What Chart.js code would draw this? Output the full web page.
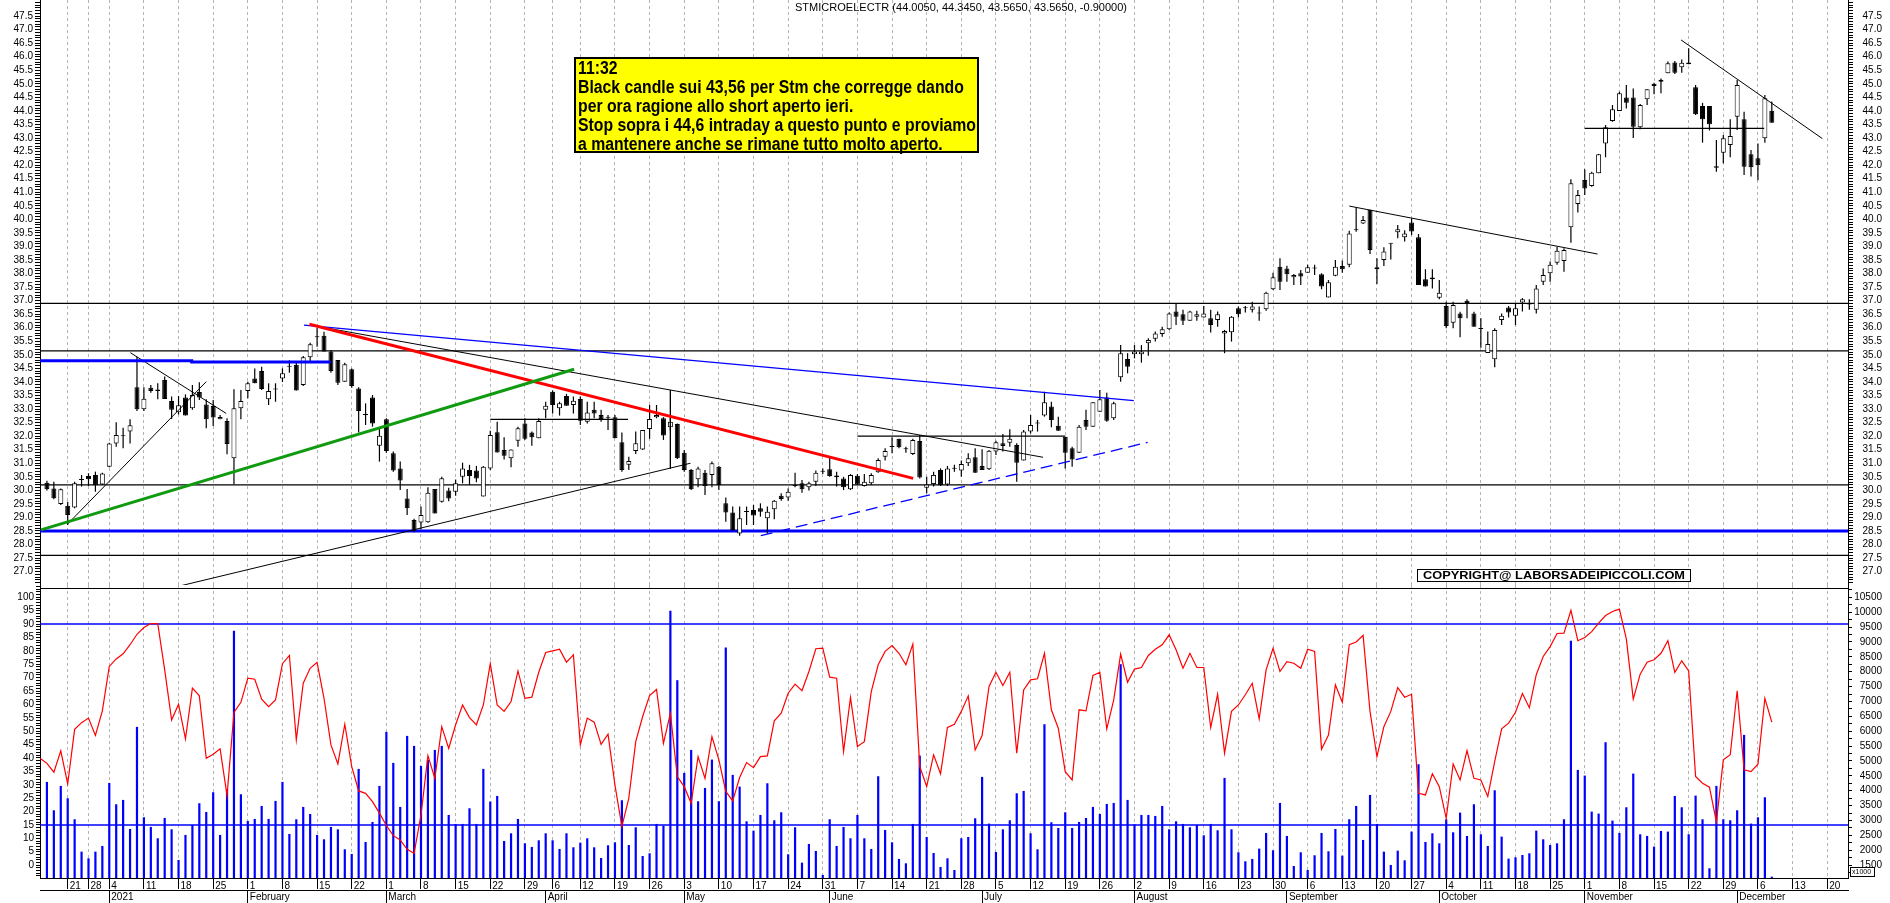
<!DOCTYPE html>
<html><head><meta charset="utf-8">
<script src="https://cdn.jsdelivr.net/npm/chart.js"></script>
<style>
html,body{margin:0;padding:0;background:#fff;width:1890px;height:903px;overflow:hidden}
canvas{position:absolute;left:0}
#top{top:0;width:1890px;height:585px}
#bot{top:585px;width:1890px;height:318px}
</style></head><body>
<canvas id="top" width="1890" height="585"></canvas>
<canvas id="bot" width="1890" height="318"></canvas>
<script>
// ---------- categories (trading days) ----------
const FIRST_DAY = '2020-12-15', LAST_DAY = '2021-12-23';
const HOLIDAYS = ['2020-12-24','2020-12-25','2020-12-31','2021-01-01','2021-04-02','2021-04-05'];
const MONTH_LABELS = ['2021','February','March','April','May','June','July','August','September','October','November','December'];
function buildCategories(){
  const out=[]; const d=new Date(FIRST_DAY+'T12:00:00Z'); const end=new Date(LAST_DAY+'T12:00:00Z');
  while(d<=end){ const dow=d.getUTCDay(); const s=d.toISOString().slice(0,10);
    if(dow!==0&&dow!==6&&!HOLIDAYS.includes(s)) out.push(s); d.setUTCDate(d.getUTCDate()+1); }
  return out;
}
const categories = buildCategories();

// ---------- price data (first day hidden at the axis edge) ----------
const open = [null,
30.28,30.07,29.50,29.43,29.37,30.38,30.53,30.57,30.22,30.87,
31.73,32.00,32.17,33.80,32.99,33.79,33.72,34.07,33.30,32.88,
33.43,33.03,33.63,33.17,33.11,32.62,32.56,31.18,33.03,33.67,
34.13,34.40,33.36,33.72,34.13,34.56,34.63,33.89,34.91,35.65,
35.70,35.12,34.81,34.01,34.47,33.76,32.78,33.43,31.65,32.62,
31.37,30.81,29.70,28.91,28.81,28.82,30.05,29.58,29.99,29.95,
30.50,30.75,30.73,29.77,30.81,32.14,31.49,31.18,31.83,32.47,
32.13,31.92,32.97,33.64,33.03,33.48,33.15,33.37,32.53,32.97,
32.78,32.68,32.70,31.77,30.94,31.45,31.51,32.26,32.70,32.66,
32.33,32.45,31.39,30.75,30.41,30.65,30.57,30.87,29.52,29.18,
28.41,29.20,29.27,29.34,28.97,29.30,29.80,29.74,30.16,30.26,
30.11,30.32,30.69,30.78,30.48,30.44,30.04,30.54,30.16,30.26,
30.67,31.24,31.60,31.90,31.52,31.34,31.82,30.10,30.23,30.75,
30.22,30.80,30.73,31.00,31.22,30.90,30.78,31.43,31.74,31.76,
31.67,31.10,32.17,32.47,32.76,33.09,32.38,31.98,31.55,31.39,
32.60,32.35,32.90,33.43,32.66,34.17,34.85,35.02,35.02,35.43,
35.59,35.77,35.94,36.60,36.50,36.26,36.41,36.38,36.35,36.29,
35.79,35.83,36.72,36.72,36.66,36.53,36.68,37.42,38.25,38.19,
37.86,38.01,38.03,38.19,37.97,37.12,37.92,38.28,38.32,39.60,
39.85,40.35,38.16,38.50,39.10,39.52,39.34,39.88,39.34,37.79,
37.85,37.11,36.80,36.18,36.53,37.00,36.53,35.96,35.07,34.84,
36.29,36.75,36.44,36.93,36.86,36.66,37.70,38.01,38.40,38.46,
39.71,40.57,41.45,41.23,41.70,42.80,43.63,44.00,44.50,44.50,
43.40,44.43,45.00,45.15,45.39,45.79,45.61,45.79,44.87,44.18,
44.18,41.96,42.46,42.74,43.79,43.69,42.40,42.25,42.99,44.005];
const high = [null,
30.35,30.32,30.07,29.58,30.32,30.57,30.63,30.69,30.65,31.76,
32.51,32.31,32.62,34.93,33.80,33.89,33.95,34.20,33.46,33.48,
33.54,33.89,33.99,33.36,33.33,32.78,32.66,33.73,33.70,34.01,
34.50,34.56,33.95,33.95,34.50,34.80,34.75,34.96,35.45,36.00,
35.85,35.18,34.81,34.71,34.50,33.80,33.21,33.52,32.29,32.66,
31.43,31.06,30.05,28.95,29.40,30.11,30.05,30.50,30.10,30.40,
31.02,30.94,30.90,30.90,32.20,32.53,31.96,31.51,32.35,32.66,
32.17,32.66,33.27,33.68,33.27,33.56,33.46,33.46,33.27,33.27,
32.97,32.78,32.78,32.13,31.24,32.17,32.23,33.15,33.15,32.70,
32.66,32.47,31.49,30.79,30.87,30.75,31.06,30.90,29.74,29.40,
29.40,29.40,29.46,29.52,29.40,29.64,29.89,30.07,30.65,30.38,
30.32,30.73,30.81,31.24,30.69,30.50,30.60,30.60,30.60,30.63,
31.18,31.55,31.96,31.90,31.61,31.90,32.04,30.50,30.69,30.81,
30.90,30.94,31.10,31.37,31.55,31.52,31.49,31.83,32.08,32.25,
31.74,32.23,32.78,32.60,33.64,33.27,32.72,31.98,31.61,32.41,
32.97,33.25,33.70,33.60,33.27,35.36,35.06,35.36,35.36,35.61,
35.86,36.04,36.56,36.88,36.66,36.63,36.63,36.80,36.66,36.60,
35.92,36.43,36.78,36.80,36.96,36.78,37.33,38.03,38.56,38.29,
37.98,38.13,38.32,38.32,38.01,37.76,38.50,38.48,39.58,40.44,
40.12,40.35,38.56,38.97,39.12,39.79,39.60,40.04,39.46,38.16,
38.16,37.76,36.96,36.96,36.59,37.05,36.59,36.35,35.86,35.98,
36.53,36.80,36.88,37.09,37.05,37.58,38.19,38.44,38.99,38.93,
41.48,41.08,41.85,41.76,42.41,43.48,44.22,44.71,44.96,44.83,
44.26,44.80,45.04,45.20,45.82,45.84,45.90,46.31,44.96,44.30,
44.18,42.93,43.11,43.69,45.14,43.97,42.56,42.80,44.59,44.345];
const low = [null,
29.99,29.67,29.46,28.72,29.34,30.14,30.16,29.95,30.20,30.85,
31.61,31.55,31.73,32.93,32.93,33.60,33.36,33.37,32.63,32.80,
32.76,32.97,33.33,32.29,32.37,32.62,31.33,30.22,32.62,33.40,
33.95,33.70,33.15,33.27,34.00,34.34,33.68,33.85,34.75,35.30,
35.12,34.34,33.89,34.01,33.79,32.13,32.41,32.35,31.06,31.39,
30.69,30.01,29.09,28.45,28.56,28.80,29.15,29.55,29.60,29.80,
30.26,30.20,30.30,29.77,30.75,31.40,31.14,30.85,31.61,31.86,
31.65,31.92,32.66,32.84,32.76,33.12,32.84,32.41,32.47,32.66,
32.53,32.23,31.92,30.69,30.75,31.34,31.49,31.90,32.66,31.86,
32.20,31.16,30.69,30.01,30.11,29.83,30.11,30.01,28.84,28.50,
28.32,28.72,28.72,29.03,28.41,28.93,29.62,29.62,30.11,29.91,
29.99,30.16,30.60,30.50,30.14,30.01,30.01,30.20,30.14,30.20,
30.65,31.10,31.37,31.55,31.39,31.30,30.44,29.89,30.14,30.16,
30.16,30.69,30.50,30.90,30.65,30.75,30.75,31.30,31.43,31.61,
30.32,31.10,32.10,32.17,32.72,32.33,32.20,30.81,30.87,31.39,
32.23,32.35,32.90,32.53,32.60,34.01,34.32,34.87,34.71,34.97,
35.49,35.67,35.92,36.10,36.10,36.26,36.26,36.38,35.82,36.04,
35.06,35.49,36.38,36.56,36.56,36.26,36.63,37.39,37.39,37.70,
37.58,37.58,38.03,37.95,37.42,37.12,37.90,38.03,38.23,39.54,
39.83,38.72,37.61,38.28,38.52,39.30,39.18,39.42,37.58,37.52,
37.45,37.05,35.98,35.98,35.65,36.35,36.04,35.26,35.07,34.54,
36.10,36.38,36.10,36.60,36.66,36.53,37.58,37.70,38.32,38.07,
39.14,40.25,40.90,41.20,41.70,42.29,43.60,44.00,44.09,43.00,
43.32,44.22,44.62,44.65,45.39,45.36,45.41,45.72,43.85,42.83,
43.28,41.76,42.07,42.29,43.30,41.64,41.58,41.44,42.83,43.565];
const close = [null,
30.04,29.71,30.04,29.09,30.26,30.39,30.41,30.20,30.62,31.73,
32.04,32.02,32.40,32.99,33.38,33.67,33.67,33.37,32.97,33.14,
32.76,33.52,33.43,32.62,32.69,32.71,31.71,33.03,33.30,33.95,
33.95,33.74,33.67,33.74,34.32,34.58,33.68,34.91,35.39,35.67,
35.12,34.40,33.97,34.65,33.85,32.93,32.80,32.47,32.01,31.45,
30.73,30.36,29.34,28.51,29.09,29.91,29.15,30.45,29.70,30.26,
30.81,30.53,30.44,30.87,32.04,31.40,31.28,31.51,32.29,31.90,
31.96,32.56,33.12,33.15,33.21,33.12,33.31,32.57,32.87,32.84,
32.63,32.70,31.92,30.75,31.08,31.74,32.23,32.63,32.78,32.02,
32.53,31.18,30.75,30.04,30.81,30.16,31.00,30.20,29.18,28.54,
28.97,29.22,29.07,29.21,29.21,29.62,29.68,29.95,30.20,30.04,
30.26,30.65,30.69,30.53,30.55,30.11,30.57,30.22,30.32,30.57,
31.12,31.45,31.62,31.59,31.53,31.86,30.47,30.22,30.57,30.20,
30.81,30.81,30.97,31.18,30.65,30.75,31.46,31.77,31.64,31.90,
31.02,32.17,32.41,32.48,33.25,32.60,32.20,31.39,31.14,32.35,
32.35,33.25,33.36,32.57,33.21,35.06,34.56,35.12,35.12,35.55,
35.79,35.94,36.53,36.41,36.26,36.60,36.50,36.53,36.10,36.50,
35.88,36.41,36.50,36.73,36.78,36.53,37.29,37.86,37.70,37.97,
37.95,37.89,38.23,38.20,37.52,37.68,38.25,38.16,39.48,39.61,
39.98,38.87,38.23,38.81,39.12,39.63,39.48,39.55,37.58,37.52,
37.79,37.29,36.06,36.84,36.35,36.91,36.04,35.95,35.40,35.92,
36.44,36.56,36.72,37.05,36.88,37.45,37.95,38.32,38.84,38.87,
41.33,40.90,41.14,41.72,42.40,43.40,44.06,44.65,44.30,43.42,
44.22,44.80,44.92,45.08,45.76,45.41,45.78,45.72,43.88,43.69,
43.51,41.90,42.99,43.08,44.96,41.94,41.92,42.00,44.465,43.565];

// ---------- volume (thousands) and oscillator ----------
const volume = [null,
4296,3343,4162,3747,3041,1953,1729,1953,2144,4262,
3545,3691,2715,6146,3108,2783,2402,3085,2704,1673,
2514,2850,3579,3287,3949,2514,4050,9374,3881,2985,
3052,3489,3052,3657,4296,2547,3041,3455,3220,2514,
2368,2783,2704,2032,1875,4733,2278,2951,4162,5978,
4935,3455,5843,5507,4834,5036,5372,5507,3186,2884,
2884,3411,2884,4733,3635,3825,2312,2570,3052,2233,
2110,2334,2570,2334,2043,2570,2099,2256,2402,2099,
1740,2166,2267,3680,2177,2772,1807,1897,2884,2828,
10047,7715,4599,5372,3646,4094,5047,3646,8814,4532,
4139,2973,2659,3186,4251,3007,3276,1864,2772,1583,
2211,1976,1170,3041,2144,2783,2402,3186,2402,2043,
4487,2682,2267,1707,1561,2884,5182,2446,1908,1437,
1729,1337,2402,2446,3074,4464,2895,1942,2704,3007,
3915,3993,2570,2032,6235,2940,2749,3276,2749,2951,
3085,3455,3220,3556,3590,8253,3691,2872,3186,3186,
3153,3489,2704,2973,2884,2772,2850,2502,2884,2671,
4431,2704,1931,1628,1707,2054,2581,1998,3590,2480,
1471,1931,1337,1830,2581,1964,2715,1819,3041,3489,
2346,3859,2884,1953,1505,1987,1662,2626,4890,2278,
2570,2233,3041,2603,3265,2480,3545,2536,2144,4016,
2458,1718,1763,1841,1897,2659,2368,2177,2233,3041,
9038,4700,4509,3298,3231,5630,2996,2581,3444,4576,
2536,2480,2121,2648,2626,3825,3444,2536,3836,3041,
1393,4162,3041,3007,3343,5877,2895,3108,3780,1112];
const oscillator = [
39.9,38.0,34.7,42.7,30.3,50.7,53.2,54.9,48.4,57.6,
74.2,77.0,78.9,82.3,86.2,88.7,90.2,90.2,72.9,54.2,
60.1,47.1,66.1,63.2,39.9,41.4,43.4,26.0,57.0,60.8,
69.8,69.4,62.0,59.2,61.7,75.2,78.3,46.8,67.9,73.5,
75.7,62.3,44.9,37.8,52.6,36.8,27.7,26.8,23.7,19.4,
14.8,11.0,9.4,5.9,4.4,18.7,40.9,32.4,51.7,43.6,
52.4,59.8,55.1,52.4,59.8,75.2,59.8,57.4,61.1,72.5,
62.3,62.7,72.0,79.4,80.0,80.6,75.8,78.5,44.9,54.9,
53.4,45.1,48.9,29.9,14.4,25.0,46.1,55.5,63.3,65.6,
45.5,56.7,33.1,29.3,23.1,40.5,32.4,48.0,39.3,27.5,
24.0,32.7,38.3,36.4,40.5,40.8,53.9,56.7,64.2,67.6,
65.1,72.3,80.8,81.0,70.2,69.8,42.4,62.6,44.3,46.1,
64.8,74.8,79.8,82.0,79.1,74.8,82.5,36.8,29.3,41.2,
34.1,51.4,52.6,57.4,63.2,43.0,48.4,66.7,72.0,67.1,
72.0,41.8,65.4,69.2,69.6,79.1,58.0,51.1,34.9,31.8,
58.0,57.6,70.8,72.0,50.9,61.7,78.8,68.3,73.2,73.8,
78.3,80.6,82.3,86.0,80.4,73.5,79.1,73.8,73.8,51.4,
63.8,41.8,57.4,59.8,63.6,67.9,54.6,72.9,81.0,72.3,
76.0,75.4,73.5,80.6,79.8,43.3,48.6,67.3,60.8,82.3,
83.3,85.8,57.4,40.5,51.7,57.4,66.3,62.7,63.8,26.8,
26.2,34.1,29.3,17.5,37.8,31.8,42.8,32.4,31.8,25.6,
38.7,50.9,53.0,57.1,64.1,58.8,71.1,77.9,81.6,86.5,
86.6,95.1,83.8,85.0,87.2,90.4,93.2,94.7,95.6,84.5,
62.0,71.3,75.8,76.7,79.1,83.8,72.0,76.3,72.5,33.1,
30.6,29.1,16.2,39.3,41.2,65.1,35.6,34.9,37.7,62.3,53.4];

// ---------- tick labels ----------
const volTicks = [1500,2000,2500,3000,3500,4000,4500,5000,5500,6000,6500,7000,7500,8000,8500,9000,9500,10000,10500];
const oscTicks = [0,5,10,15,20,25,30,35,40,45,50,55,60,65,70,75,80,85,90,95,100];

// ---------- drawn levels / trend lines: [index, price] ----------
const hBlackLevels = [36.9, 35.15, 30.2, 27.6];
const hBlueLevels = [28.5];
const fullSpan = [0, 261];
const blueTopLine = [[0,34.78],[21.9,34.78],[21.9,34.74],[42,34.74]];
const greenUp = [[0.15,28.54],[77.1,34.47]];
const redDown = [[38.9,36.13],[126.05,30.44]];
const blueDown = [[38.1,36.1],[157.9,33.31]];
const blackDown = [[39,36.1],[144.8,31.22]];
const blackUp = [[20.5,26.49],[93.9,31.0]];
const janUp = [[4,28.76],[24,34.01]];
const janDown = [[13.04,35.08],[26.87,32.84]];
const aprRange = [[65,32.62],[84.9,32.62]];
const junRange = [[118,32.0],[148,32.0]];
const aprSpike = [[91,33.7],[91,30.8]];
const blueDashUp = [[104.05,28.33],[159.9,31.77]];
const sepDown = [[189,40.49],[224.85,38.72]];
const novDown = [[236.9,46.62],[257.3,42.98]];
const novFloor = [[223,43.36],[248.9,43.36]];
const oscLevels = [90, 15];

// ---------- texts ----------
const TITLE = 'STMICROELECTR (44.0050, 44.3450, 43.5650, 43.5650, -0.90000)';
const NOTE_LINES = ['11:32','Black candle sui 43,56 per Stm che corregge dando','per ora ragione allo short aperto ieri.','Stop sopra i 44,6 intraday a questo punto e proviamo','a mantenere anche se rimane tutto molto aperto.'];
const COPYRIGHT = 'COPYRIGHT@ LABORSADEIPICCOLI.COM';
const noteAnchor = [77.1, 46.0];
const copyAnchor = [198.8, 27.1];

// ---------- helpers ----------
Chart.defaults.font.family = '"Liberation Sans", Arial, sans-serif';
Chart.defaults.font.size = 10;
Chart.defaults.color = '#000';
const GRID = '#b4b4b4';
function dOf(i){ return new Date(categories[i]+'T12:00:00Z'); }
function isWeekStart(i){ if(i<=0||i>=categories.length) return false; const a=dOf(i-1), b=dOf(i); return b.getUTCDay()<a.getUTCDay() || (b-a)>4*86400000; }
function isMonthStart(i){ if(i<=0||i>=categories.length) return false; return categories[i].slice(5,7)!==categories[i-1].slice(5,7); }
function monthLabel(i){ return MONTH_LABELS[parseInt(categories[i].slice(5,7),10)-1]; }
function priceLabel(v){ const r=Math.round(v*10)/10; if(Math.abs(r*2-Math.round(r*2))<1e-6 && r>=26.99 && r<=47.51) return r.toFixed(1); return ''; }
function seg(points,color,width,dash,yID){
  return {type:'line', xAxisID:'xl', yAxisID:yID||'y', data:points.map(p=>({x:p[0],y:p[1]})),
    borderColor:color, borderWidth:width, borderDash:dash||[], pointRadius:0, fill:false, tension:0, order:0};
}
function level(v,color,width,yID){ return Object.assign(seg(fullSpan.map(x=>[x,v]),color,width,[],yID),{order:5}); }
function noPad(s){ s.paddingTop=0; s.paddingBottom=0; s.paddingLeft=0; s.paddingRight=0; }
function minorTicks(from,to,step){ const t=[]; for(let v=from; v<=to+1e-9; v+=step) t.push({value:Math.round(v*1000)/1000}); return t; }
const yTickFont = {size:10};
const hiddenLinear = {type:'linear', min:0, max:261, display:false, position:'bottom', offset:false, weight:0, grid:{offset:false}};

// ---------- top chart ----------
const wickData = high.map((h,i)=> h==null?null:[low[i],h]);
const bodyData = open.map((o,i)=> o==null?null:[Math.min(o,close[i]),Math.max(o,close[i])]);

const topDecor = {
  id:'topDecor',
  afterDraw(chart){
    const {ctx} = chart; const xs=chart.scales.xl, ys=chart.scales.y;
    ctx.save();
    ctx.font='10px "Liberation Sans", Arial'; ctx.fillStyle='#000'; ctx.textBaseline='middle'; ctx.textAlign='left';
    let tw=ctx.measureText(TITLE).width; ctx.save(); ctx.translate(795,8); ctx.scale(332/tw,1); ctx.fillText(TITLE,0,0); ctx.restore();
    const bx=Math.round(xs.getPixelForValue(noteAnchor[0])), by=Math.round(ys.getPixelForValue(noteAnchor[1]));
    ctx.fillStyle='#ffff00'; ctx.fillRect(bx,by,405,96);
    ctx.lineWidth=2; ctx.strokeStyle='#000'; ctx.strokeRect(bx+1,by+1,403,94);
    ctx.fillStyle='#000'; ctx.font='bold 18px "Liberation Sans", Arial'; ctx.textBaseline='alphabetic';
    const w=Math.max(...NOTE_LINES.map(s=>ctx.measureText(s).width)); const sx=Math.min(1,398/w);
    NOTE_LINES.forEach((s,n)=>{ ctx.save(); ctx.translate(bx+4,by+17+19*n); ctx.scale(sx,1); ctx.fillText(s,0,0); ctx.restore(); });
    const cx=Math.round(xs.getPixelForValue(copyAnchor[0])), cy=Math.round(ys.getPixelForValue(copyAnchor[1]));
    ctx.fillStyle='#fff'; ctx.fillRect(cx,cy,274,13);
    ctx.lineWidth=1; ctx.strokeStyle='#000'; ctx.strokeRect(cx+0.5,cy+0.5,273,12);
    ctx.fillStyle='#000'; ctx.font='bold 11px "Liberation Sans", Arial'; ctx.textBaseline='middle';
    tw=ctx.measureText(COPYRIGHT).width; ctx.save(); ctx.translate(cx+6,cy+7); ctx.scale(262/tw,1); ctx.fillText(COPYRIGHT,0,0); ctx.restore();
    ctx.restore();
  }
};

const topDatasets = [
  ...hBlackLevels.map(v=>level(v,'#000',1.3)),
  ...hBlueLevels.map(v=>level(v,'#0000ff',3)),
  {type:'bar', label:'wick', xAxisID:'x', yAxisID:'y', data:wickData, backgroundColor:'#000', barThickness:1.2, grouped:false, order:3, inflateAmount:0},
  {type:'bar', label:'body', xAxisID:'x', yAxisID:'y', data:bodyData,
    backgroundColor:c=> (close[c.dataIndex]>=open[c.dataIndex])?'#fff':'#000',
    borderColor:'#000', borderWidth:1, borderSkipped:false, barThickness:5, minBarLength:1, grouped:false, order:2, inflateAmount:0},
  seg(blueTopLine,'#0000ff',3),
  seg(greenUp,'#109a10',3),
  seg(redDown,'#ff0000',3),
  seg(blueDown,'#0000ff',1.2),
  seg(blackDown,'#000',1),
  seg(blackUp,'#000',1),
  seg(janUp,'#000',1),
  seg(janDown,'#000',1),
  seg(aprRange,'#000',1.2),
  seg(junRange,'#000',1.2),
  seg(aprSpike,'#000',1),
  seg(blueDashUp,'#0000ff',1.3,[12,6]),
  seg(sepDown,'#000',1),
  seg(novDown,'#000',1),
  seg(novFloor,'#000',1.2)
];

new Chart(document.getElementById('top'), {
  type:'bar',
  data:{labels:categories, datasets:topDatasets},
  options:{
    responsive:false, animation:false, devicePixelRatio:1,
    layout:{padding:{left:0,right:8,top:0,bottom:0}},
    plugins:{legend:{display:false}, tooltip:{enabled:false}},
    scales:{
      x:{type:'category', offset:false, position:'bottom',
        grid:{offset:false, drawTicks:false, lineWidth:1, color:c=>isWeekStart(c.index)?GRID:'transparent'},
        border:{display:true, color:'#000', width:1, dash:[3,3]},
        ticks:{display:false, autoSkip:false},
        afterFit:s=>{ s.height=0; noPad(s); }},
      xl:hiddenLinear,
      y:{type:'linear', position:'left', min:26.507, max:48.094,
        ticks:{stepSize:0.1, autoSkip:false, includeBounds:false, padding:2, font:yTickFont, color:'#000', callback:v=>priceLabel(v)},
        grid:{drawOnChartArea:false, drawTicks:true, tickLength:5, tickColor:'#000'},
        border:{display:true, color:'#000', width:1},
        afterFit:s=>{ s.width=40; noPad(s); }},
      yr:{type:'linear', position:'right', min:26.507, max:48.094,
        ticks:{stepSize:0.1, autoSkip:false, includeBounds:false, padding:2, crossAlign:'far', font:yTickFont, color:'#000', callback:v=>priceLabel(v)},
        grid:{drawOnChartArea:false, drawTicks:true, tickLength:5, tickColor:'#000'},
        border:{display:true, color:'#000', width:1},
        afterFit:s=>{ s.width=34; noPad(s); }}
    }
  },
  plugins:[topDecor]
});

// ---------- bottom chart ----------
const botDecor = {
  id:'botDecor',
  afterDraw(chart){
    const {ctx, chartArea:a} = chart;
    ctx.save();
    ctx.strokeStyle='#000'; ctx.lineWidth=1;
    ctx.beginPath(); ctx.moveTo(a.left,a.top+3.5); ctx.lineTo(a.right,a.top+3.5); ctx.stroke();
    ctx.font='7px "Liberation Sans", Arial'; ctx.fillStyle='#000'; ctx.textBaseline='middle'; ctx.textAlign='left';
    ctx.fillStyle='#fff'; ctx.fillRect(a.right+2, a.bottom-11, 25, 10);
    ctx.fillStyle='#000'; ctx.fillText('x1000', a.right+4, a.bottom-6);
    ctx.strokeRect(a.right+2.5, a.bottom-10.5, 24, 9);
    ctx.restore();
  }
};

new Chart(document.getElementById('bot'), {
  type:'bar',
  data:{labels:categories, datasets:[
    {type:'bar', label:'volume', xAxisID:'x', yAxisID:'yv', data:volume, backgroundColor:'#0000ff', barThickness:2.2, grouped:false, order:3, inflateAmount:0},
    ...oscLevels.map(v=>Object.assign(level(v,'#0000ff',1.5,'yo'),{order:2})),
    {type:'line', label:'osc', xAxisID:'x', yAxisID:'yo', data:oscillator, borderColor:'#ff0000', borderWidth:1.2, pointRadius:0, tension:0, fill:false, order:1}
  ]},
  options:{
    responsive:false, animation:false, devicePixelRatio:1,
    layout:{padding:{left:0,right:8,top:0,bottom:0}},
    plugins:{legend:{display:false}, tooltip:{enabled:false}},
    scales:{
      x:{type:'category', offset:false, position:'bottom', weight:1,
        grid:{offset:false, drawTicks:true, tickLength:11, lineWidth:1, tickWidth:1,
          color:c=>isWeekStart(c.index)?GRID:'transparent', tickColor:c=>isWeekStart(c.index)?'#000':'transparent', tickBorderDash:[]},
        border:{display:true, color:'#000', width:1, dash:[3,3]},
        ticks:{autoSkip:false, maxRotation:0, minRotation:0, align:'start', labelOffset:2, padding:-9, color:'#000', font:{size:10},
          callback:(v,i)=> isWeekStart(i)? String(parseInt(categories[i].slice(8),10)) : ''},
        afterFit:s=>{ s.height=12; noPad(s); }},
      xm:{type:'category', offset:false, position:'bottom', weight:2,
        grid:{offset:false, drawOnChartArea:false, drawTicks:true, tickLength:13, tickWidth:1,
          tickColor:c=>isMonthStart(c.index)?'#000':'transparent'},
        border:{display:true, color:'#000', width:1},
        ticks:{autoSkip:false, maxRotation:0, minRotation:0, align:'start', labelOffset:2, padding:-12, color:'#000', font:{size:10},
          callback:(v,i)=> isMonthStart(i)? monthLabel(i) : ''},
        afterFit:s=>{ s.height=13; noPad(s); }},
      xl:hiddenLinear,
      yo:{type:'linear', position:'left', min:-4.81, max:104.6,
        afterBuildTicks:s=>{ s.ticks = minorTicks(-4,104,1); },
        ticks:{autoSkip:false, padding:2, font:yTickFont, color:'#000', callback:v=> oscTicks.includes(v)? String(v) : ''},
        grid:{drawOnChartArea:false, drawTicks:true, tickLength:4, tickColor:'#000'},
        border:{display:true, color:'#000', width:1},
        afterFit:s=>{ s.width=40; noPad(s); }},
      yv:{type:'linear', position:'right', min:1067, max:10914,
        afterBuildTicks:s=>{ s.ticks = minorTicks(1250,10750,250); },
        ticks:{autoSkip:false, padding:2, crossAlign:'far', font:yTickFont, color:'#000', callback:v=> volTicks.includes(v)? String(v) : ''},
        grid:{drawOnChartArea:false, drawTicks:true, tickLength:4, tickColor:'#000'},
        border:{display:true, color:'#000', width:1},
        afterFit:s=>{ s.width=34; noPad(s); }}
    }
  },
  plugins:[botDecor]
});
</script></body></html>
